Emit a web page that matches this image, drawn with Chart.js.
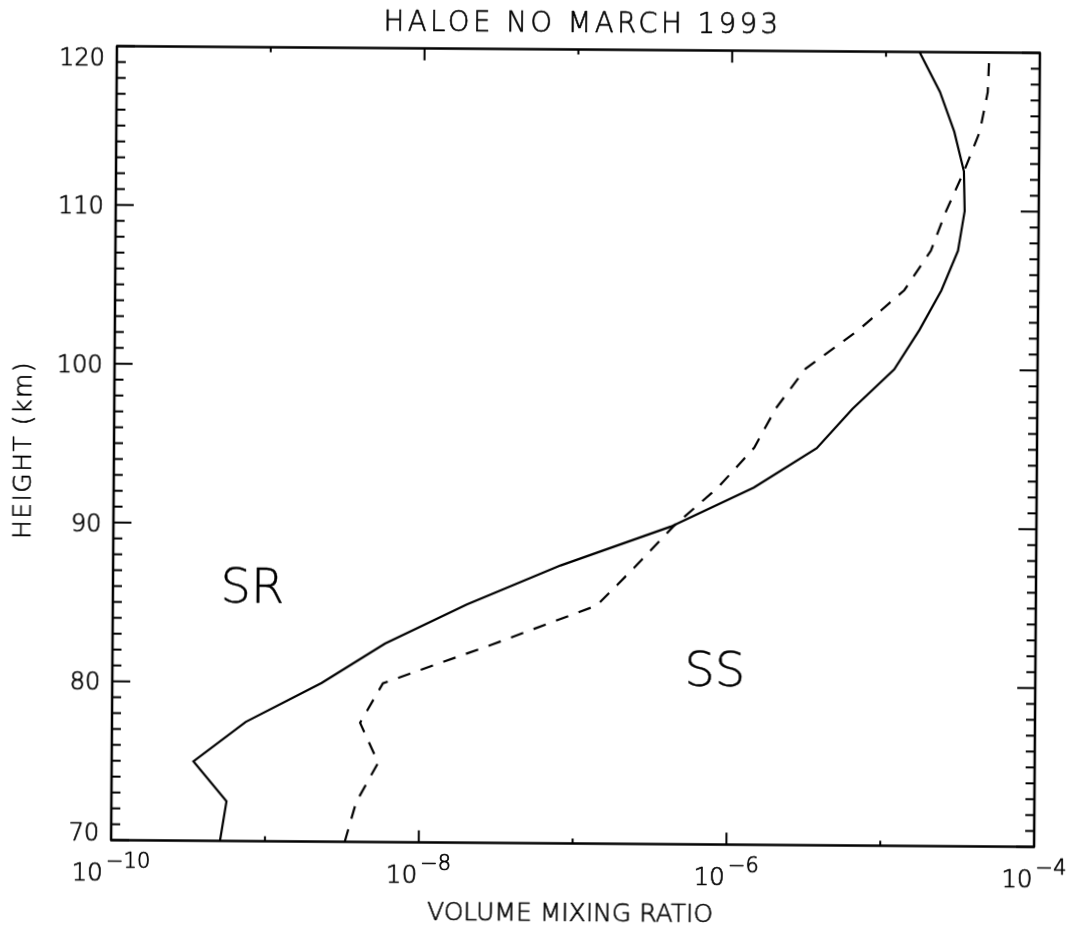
<!DOCTYPE html>
<html>
<head>
<meta charset="utf-8">
<script src="https://cdn.jsdelivr.net/npm/chart.js@4.4.1/dist/chart.umd.min.js"></script>
<style>
  html, body { margin: 0; padding: 0; background: #fff; overflow: hidden; }
  #wrap { width: 1073px; height: 933px; transform-origin: 575.5px 446.5px; transform: rotate(0.42deg); }
  canvas { display: block; }
</style>
</head>
<body>
<div id="wrap"><canvas id="chart" width="1073" height="933"></canvas></div>
<script>
// HALOE NO profiles, March 1993 (height in km, volume mixing ratio)
const srHeights = [70, 72.5, 75, 77.5, 80, 82.5, 85, 87.5, 90, 92.5, 95, 97.5, 100, 102.5, 105, 107.5, 110, 112.5, 115, 117.5, 120];
const srVmr     = [5.1e-10, 5.6e-10, 3.4e-10, 7.4e-10, 2.3e-9, 5.9e-9, 2.0e-8, 8.1e-8, 4.2e-7, 1.45e-6, 3.7e-6, 6.3e-6, 1.17e-5, 1.7e-5, 2.35e-5, 3.0e-5, 3.3e-5, 3.25e-5, 2.8e-5, 2.25e-5, 1.65e-5];

const ssHeights = [70, 72.5, 75, 77.5, 80, 82.5, 85, 87.5, 90, 92.5, 95, 97.5, 100, 102.5, 105, 107.5, 110, 112.5, 115, 117.5, 120];
const ssVmr     = [3.3e-9, 3.9e-9, 5.4e-9, 4.1e-9, 5.75e-9, 2.95e-8, 1.4e-7, 2.5e-7, 4.35e-7, 8.5e-7, 1.45e-6, 2.0e-6, 3.1e-6, 6.9e-6, 1.35e-5, 2.0e-5, 2.5e-5, 3.25e-5, 4.1e-5, 4.6e-5, 4.7e-5];

// axis ticks and labels
const xDecades = [-10, -9, -8, -7, -6, -5, -4];
const xLabelExponents = [-10, -8, -6, -4];
const yLabelValues = [70, 80, 90, 100, 110, 120];

const titleText = 'HALOE NO MARCH 1993';
const xTitleText = 'VOLUME MIXING RATIO';
const yTitleText = 'HEIGHT (km)';
const regionLabels = [
  { text: 'SR', x: 8.07e-10, y: 85 },
  { text: 'SS', x: 8.26e-7, y: 80 }
];

const FONT = '"DejaVu Sans", "Liberation Sans", sans-serif';
const W = '200 ';
const INK = '#000';

function line(ctx, x1, y1, x2, y2) {
  ctx.beginPath(); ctx.moveTo(x1, y1); ctx.lineTo(x2, y2); ctx.stroke();
}

// thin single-stroke look: light face plus a fine outline
function text(ctx, s, x, y, outline) {
  ctx.fillText(s, x, y);
  ctx.lineWidth = outline;
  ctx.strokeText(s, x, y);
}

const framePlugin = {
  id: 'frame',
  beforeDraw(chart) {
    const ctx = chart.ctx;
    ctx.save();
    ctx.fillStyle = '#fff';
    ctx.fillRect(0, 0, chart.width, chart.height);
    ctx.restore();
  },
  afterDraw(chart) {
    const ctx = chart.ctx;
    const { left, right, top, bottom } = chart.chartArea;
    const xs = chart.scales.x, ys = chart.scales.y;
    ctx.save();
    ctx.strokeStyle = INK;
    ctx.fillStyle = INK;
    ctx.lineCap = 'butt';
    ctx.lineJoin = 'round';

    // box
    ctx.lineWidth = 2.5;
    ctx.strokeRect(left, top, right - left, bottom - top);

    // height ticks, every km, pointing inward on both sides
    ctx.lineWidth = 2;
    for (let h = ys.min; h <= ys.max; h += 1) {
      const y = ys.getPixelForValue(h);
      const len = (h % 10 === 0) ? 18 : 9;
      line(ctx, left, y, left + len, y);
      line(ctx, right, y, right - len, y);
    }

    // decade ticks on top and bottom
    xDecades.forEach(e => {
      const x = xs.getPixelForValue(Math.pow(10, e));
      const len = (e % 2 === 0) ? 12 : 5;
      line(ctx, x, bottom, x, bottom - len);
      line(ctx, x, top, x, top + len);
    });

    // height labels, kept inside the frame's vertical extent
    ctx.font = W + '24px ' + FONT;
    ctx.textAlign = 'right';
    ctx.textBaseline = 'alphabetic';
    const cap = 17.5;
    yLabelValues.forEach(v => {
      let cy = ys.getPixelForValue(v);
      cy = Math.min(Math.max(cy, top + 11), bottom - 8);
      text(ctx, String(v), left - 12, cy + cap / 2, 0.7);
    });

    // power-of-ten labels
    const baseFont = W + '24.5px ' + FONT;
    const supFont = W + '21px ' + FONT;
    ctx.textAlign = 'left';
    xLabelExponents.forEach(e => {
      const x = xs.getPixelForValue(Math.pow(10, e));
      const sup = '\u2212' + Math.abs(e);
      ctx.font = baseFont;
      const w1 = ctx.measureText('10').width;
      ctx.font = supFont;
      const w2 = ctx.measureText(sup).width;
      const gap = 3;
      const x0 = x - (w1 + gap + w2) / 2;
      const base = bottom + 40.5;
      ctx.font = baseFont;
      text(ctx, '10', x0, base, 0.7);
      ctx.font = supFont;
      text(ctx, sup, x0 + w1 + gap, base - 13, 0.7);
    });

    // title
    ctx.textAlign = 'center';
    ctx.font = W + '27.5px ' + FONT;
    if ('letterSpacing' in ctx) ctx.letterSpacing = '3.5px';
    text(ctx, titleText, (left + right) / 2 + 4, 32, 0.6);
    if ('letterSpacing' in ctx) ctx.letterSpacing = '0px';

    // axis titles
    ctx.font = W + '25px ' + FONT;
    text(ctx, xTitleText, (left + right) / 2 - 2, bottom + 77.5, 0.6);

    ctx.save();
    ctx.translate(31, 454);
    ctx.rotate(-Math.PI / 2);
    if ('letterSpacing' in ctx) ctx.letterSpacing = '1.5px';
    text(ctx, yTitleText, 0, 0, 0.6);
    ctx.restore();

    // region labels
    ctx.font = W + '48px ' + FONT;
    ctx.textAlign = 'center';
    regionLabels.forEach(r => {
      text(ctx, r.text, xs.getPixelForValue(r.x), ys.getPixelForValue(r.y), 0.4);
    });

    ctx.restore();
  }
};

const toPoints = (hs, vs) => hs.map((h, i) => ({ x: vs[i], y: h }));

new Chart(document.getElementById('chart'), {
  type: 'scatter',
  data: {
    datasets: [
      {
        label: 'SR',
        data: toPoints(srHeights, srVmr),
        showLine: true,
        borderColor: INK,
        borderWidth: 2.2,
        pointRadius: 0,
        tension: 0,
        fill: false
      },
      {
        label: 'SS',
        data: toPoints(ssHeights, ssVmr),
        showLine: true,
        borderColor: INK,
        borderWidth: 2.2,
        borderDash: [13, 11],
        pointRadius: 0,
        tension: 0,
        fill: false
      }
    ]
  },
  options: {
    responsive: false,
    animation: false,
    devicePixelRatio: 1,
    layout: { padding: { left: 114, right: 36, top: 49.5, bottom: 89.5 } },
    plugins: { legend: { display: false }, tooltip: { enabled: false }, title: { display: false } },
    scales: {
      x: {
        type: 'logarithmic',
        min: 1e-10,
        max: 1e-4,
        grid: { display: false },
        border: { display: false },
        ticks: { display: false },
        afterFit(s) { s.height = 0; }
      },
      y: {
        type: 'linear',
        min: 70,
        max: 120,
        grid: { display: false },
        border: { display: false },
        ticks: { display: false },
        afterFit(s) { s.width = 0; }
      }
    }
  },
  plugins: [framePlugin]
});
</script>
</body>
</html>
